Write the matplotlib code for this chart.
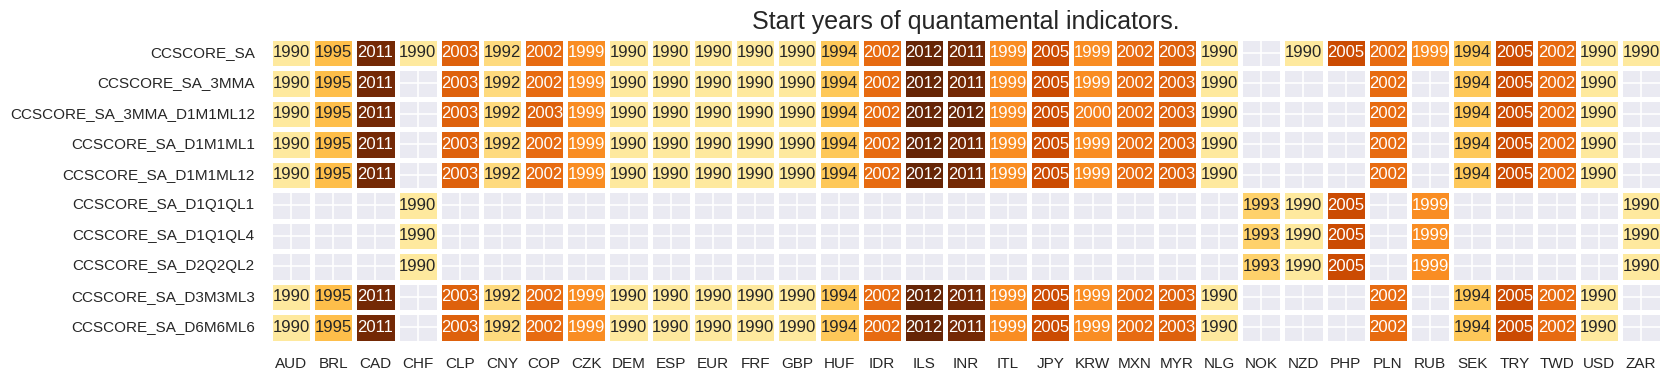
import numpy as np
import pandas as pd
import matplotlib
matplotlib.use("Agg")
import matplotlib.pyplot as plt
import seaborn as sns

currencies = ["AUD", "BRL", "CAD", "CHF", "CLP", "CNY", "COP", "CZK", "DEM", "ESP", "EUR",
              "FRF", "GBP", "HUF", "IDR", "ILS", "INR", "ITL", "JPY", "KRW", "MXN", "MYR",
              "NLG", "NOK", "NZD", "PHP", "PLN", "RUB", "SEK", "TRY", "TWD", "USD", "ZAR"]

indicators = ["CCSCORE_SA", "CCSCORE_SA_3MMA", "CCSCORE_SA_3MMA_D1M1ML12",
              "CCSCORE_SA_D1M1ML1", "CCSCORE_SA_D1M1ML12", "CCSCORE_SA_D1Q1QL1",
              "CCSCORE_SA_D1Q1QL4", "CCSCORE_SA_D2Q2QL2", "CCSCORE_SA_D3M3ML3",
              "CCSCORE_SA_D6M6ML6"]

n = np.nan
sa = [1990, 1995, 2011, 1990, 2003, 1992, 2002, 1999, 1990, 1990, 1990,
      1990, 1990, 1994, 2002, 2012, 2011, 1999, 2005, 1999, 2002, 2003,
      1990, n, 1990, 2005, 2002, 1999, 1994, 2005, 2002, 1990, 1990]
sa_3mma = [1990, 1995, 2011, n, 2003, 1992, 2002, 1999, 1990, 1990, 1990,
           1990, 1990, 1994, 2002, 2012, 2011, 1999, 2005, 1999, 2002, 2003,
           1990, n, n, n, 2002, n, 1994, 2005, 2002, 1990, n]
sa_3mma_d1m1ml12 = [1990, 1995, 2011, n, 2003, 1992, 2003, 1999, 1990, 1990, 1990,
                    1990, 1990, 1994, 2002, 2012, 2012, 1999, 2005, 2000, 2002, 2003,
                    1990, n, n, n, 2002, n, 1994, 2005, 2002, 1990, n]
sa_d1m1ml1 = list(sa_3mma)
sa_d1m1ml12 = list(sa_3mma)
sa_d1q1ql1 = [n, n, n, 1990, n, n, n, n, n, n, n,
              n, n, n, n, n, n, n, n, n, n, n,
              n, 1993, 1990, 2005, n, 1999, n, n, n, n, 1990]
sa_d1q1ql4 = list(sa_d1q1ql1)
sa_d2q2ql2 = list(sa_d1q1ql1)
sa_d3m3ml3 = list(sa_3mma)
sa_d6m6ml6 = list(sa_3mma)

rows = [sa, sa_3mma, sa_3mma_d1m1ml12, sa_d1m1ml1, sa_d1m1ml12, sa_d1q1ql1,
        sa_d1q1ql4, sa_d2q2ql2, sa_d3m3ml3, sa_d6m6ml6]
df = pd.DataFrame(rows, index=indicators, columns=currencies)

sns.set_theme(style="darkgrid")
plt.rcParams["font.family"] = ["Liberation Sans", "DejaVu Sans"]

fig = plt.figure(figsize=(16.72, 3.81), dpi=100)
ax = fig.add_axes([0.1615, 0.1005, 0.8325, 0.8005])
sns.heatmap(df, ax=ax, cmap="YlOrBr", vmin=1984, vmax=2012, annot=True, fmt=".0f",
            annot_kws={"fontsize": 12}, linewidths=2.2, linecolor="white", cbar=False)
ax.set_title("Start years of quantamental indicators.", fontsize=18, pad=6)
ax.tick_params(axis="x", length=0, labelsize=11, pad=10)
ax.tick_params(axis="y", length=0, labelsize=11, pad=11)
ax.set_xticklabels(ax.get_xticklabels(), rotation=0)
ax.set_yticklabels(ax.get_yticklabels(), rotation=0)
ax.set_xlabel("")
ax.set_ylabel("")
ax.grid(True, color="white", linewidth=1.2)
ax.set_axisbelow(True)
fig.savefig("out.png", dpi=100)
